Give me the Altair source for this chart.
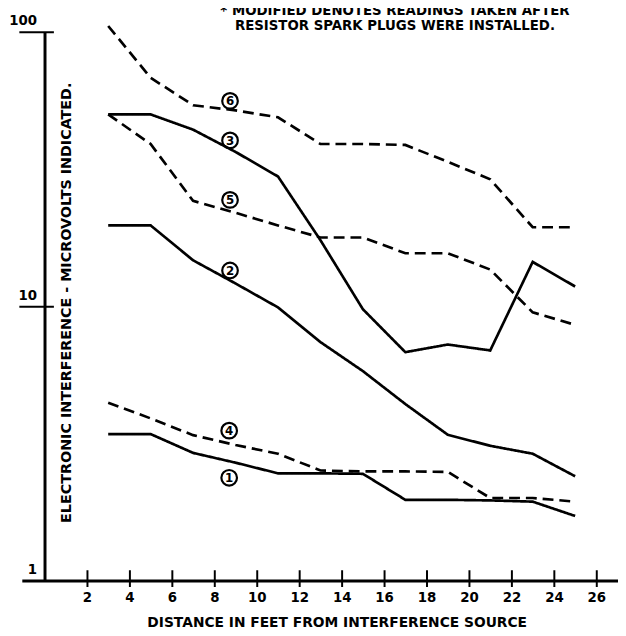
import altair as alt
import pandas as pd

FONT = "DejaVu Sans"

# distance in feet
distance = [3, 5, 7, 9, 11, 13, 15, 17, 19, 21, 23, 25]

# microvolts for each numbered curve
curve_1 = [3.42, 3.42, 2.92, 2.69, 2.46, 2.46, 2.45, 1.97, 1.97, 1.96, 1.94, 1.72]
curve_2 = [19.7, 19.7, 14.7, 12.1, 9.9, 7.4, 5.8, 4.4, 3.4, 3.1, 2.9, 2.4]
curve_3 = [50, 50, 44, 36.5, 29.7, 17.4, 9.75, 6.8, 7.25, 6.9, 14.5, 11.8]
curve_4 = [4.45, 3.9, 3.39, 3.12, 2.9, 2.52, 2.5, 2.5, 2.49, 2.0, 2.0, 1.94]
curve_5 = [50, 39, 24.2, 21.9, 19.7, 17.8, 17.8, 15.6, 15.6, 13.6, 9.5, 8.55]
curve_6 = [105, 68, 54, 51.7, 48.8, 39, 39, 38.7, 33.6, 29, 19.4, 19.4]

curve_names = ["1", "2", "3", "4", "5", "6"]
curve_styles = ["solid", "solid", "solid", "dashed", "dashed", "dashed"]
curves = [curve_1, curve_2, curve_3, curve_4, curve_5, curve_6]

# circled labels
label_text = ["1", "2", "3", "4", "5", "6"]
label_x = [8.7, 8.74, 8.74, 8.7, 8.74, 8.74]
label_y = [2.37, 13.5, 40.2, 3.52, 24.4, 56]

note_lines = ["* MODIFIED DENOTES READINGS TAKEN AFTER",
              "RESISTOR SPARK PLUGS WERE INSTALLED."]

x_ticks = [2, 4, 6, 8, 10, 12, 14, 16, 18, 20, 22, 24, 26]
y_labels = [1, 10, 100]
y_ticks = [10, 100]

rows = []
for name, style, vals in zip(curve_names, curve_styles, curves):
    for d, v in zip(distance, vals):
        rows.append({"distance": d, "microvolts": v, "curve": name, "style": style})
df = pd.DataFrame(rows)
lab_df = pd.DataFrame({"label": label_text, "x": label_x, "y": label_y})

x_scale = alt.Scale(domain=[-1.07, 27.02], nice=False, zero=False)
y_scale = alt.Scale(type="log", domain=[1, 100], nice=False)

lines = alt.Chart(df).mark_line(color="black", strokeWidth=2.7, strokeCap="butt").encode(
    x=alt.X("distance:Q", scale=x_scale, axis=alt.Axis(
        orient="bottom", values=x_ticks, ticks=False, tickSize=0, grid=False,
        domainWidth=3, domainColor="black",
        labelPadding=10, labelFont=FONT, labelFontSize=13.5, labelFontWeight="bold", labelColor="black",
        title="DISTANCE IN FEET FROM INTERFERENCE SOURCE", titleX=319, titleY=47,
        titleBaseline="alphabetic", titleAlign="center", titleFont=FONT, titleFontSize=14,
        titleFontWeight="bold", titleColor="black")),
    y=alt.Y("microvolts:Q", scale=y_scale, axis=alt.Axis(
        orient="left", offset=-23, values=y_labels, format="d", ticks=False, tickSize=0, grid=False,
        domainWidth=3, domainColor="black",
        labelPadding=8, labelBaseline="bottom", labelOffset=-4,
        labelFont=FONT, labelFontSize=13.5, labelFontWeight="bold", labelColor="black",
        title="ELECTRONIC INTERFERENCE - MICROVOLTS INDICATED.", titleX=26, titleY=274,
        titleAngle=270, titleBaseline="alphabetic", titleAlign="center", titleFont=FONT,
        titleFontSize=14.5, titleFontWeight="bold", titleColor="black")),
    detail="curve:N",
    strokeDash=alt.StrokeDash("style:N", scale=alt.Scale(domain=["solid", "dashed"],
                                                         range=[[1, 0], [11, 6]]), legend=None),
)

circles = alt.Chart(lab_df).mark_point(shape="circle", filled=False, size=250, strokeWidth=2.2,
                                       color="black", opacity=1).encode(
    x=alt.X("x:Q", scale=x_scale, axis=alt.Axis(
        orient="bottom", offset=-11, values=x_ticks, tickSize=17, tickWidth=2, tickColor="black",
        labels=False, domain=False, grid=False, title="")),
    y=alt.Y("y:Q", scale=y_scale, axis=alt.Axis(
        orient="left", offset=-32, values=y_ticks, tickSize=35, tickWidth=2, tickColor="black",
        labels=False, domain=False, grid=False, title="")),
)

digits = alt.Chart(lab_df).mark_text(font=FONT, fontSize=12, fontWeight="bold", color="black",
                                     align="center", baseline="middle", dy=0.5).encode(
    x=alt.X("x:Q", scale=x_scale, axis=None),
    y=alt.Y("y:Q", scale=y_scale, axis=None),
    text="label:N",
)

note1 = alt.Chart(pd.DataFrame({"line": [note_lines[0]]})).mark_text(
    font=FONT, fontSize=13.5, fontWeight="bold", color="black", align="center", baseline="alphabetic"
).encode(x=alt.value(378), y=alt.value(-17.5), text="line:N")

note2 = alt.Chart(pd.DataFrame({"line": [note_lines[1]]})).mark_text(
    font=FONT, fontSize=13.5, fontWeight="bold", color="black", align="center", baseline="alphabetic"
).encode(x=alt.value(378), y=alt.value(-2), text="line:N")

chart = alt.layer(lines, circles, digits, note1, note2).resolve_axis(
    x="independent", y="independent"
).properties(
    width=604, height=556,
    autosize=alt.AutoSizeParams(type="none"),
    padding={"left": 14, "top": 20, "right": 0, "bottom": 52},
    background="white",
).configure_view(stroke=None)

chart.save("out.html", embed_options={"renderer": "svg", "actions": False})
